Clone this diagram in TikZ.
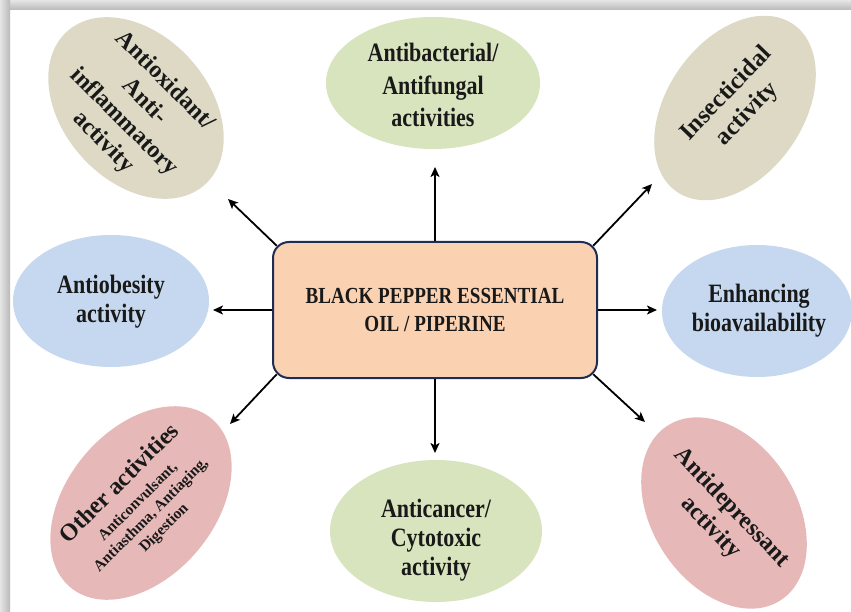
\documentclass[tikz,border=0pt]{standalone}
\usepackage{fontspec}
\setmainfont{Liberation Serif}[FakeStretch=0.83]
\newfontfamily\rotfont{Liberation Serif}
\usetikzlibrary{shapes.geometric,arrows.meta}
\definecolor{tanfill}{RGB}{221,217,196}
\definecolor{greenfill}{RGB}{215,228,189}
\definecolor{bluefill}{RGB}{198,216,239}
\definecolor{pinkfill}{RGB}{230,185,184}
\definecolor{peachfill}{RGB}{250,209,177}
\definecolor{boxline}{RGB}{31,45,85}
\definecolor{txt}{RGB}{25,25,25}
\begin{document}
\begin{tikzpicture}[x=1pt,y=-1pt,
  bubble/.style={ellipse, inner sep=0pt, draw=none},
  htext/.style={align=center, text=txt, font=\bfseries\fontsize{26.5}{32}\selectfont},
  rtext/.style={align=center, text=txt, font=\rotfont\bfseries\fontsize{24}{29}\selectfont},
  arr/.style={line width=1.8pt, draw=black, -{Stealth[length=10pt,width=9pt,inset=2.5pt]}}]
\useasboundingbox (0,0) rectangle (851,612);
\fill[white] (0,0) rectangle (851,612);
% frame shadow
\shade[top color=gray!20, bottom color=gray!55] (0,0) rectangle (851,10);
\shade[left color=gray!20, right color=gray!55] (0,0) rectangle (10,612);

% ellipses
\node[bubble, fill=tanfill, minimum width=206pt, minimum height=146pt, rotate=-48] (tl) at (136,108) {};
\node[rtext, rotate=-45] (tltext) at (134,112) {Antioxidant/\\Anti-\\inflammatory\\activity};

\node[bubble, fill=greenfill, minimum width=214pt, minimum height=132pt] (top) at (433,83) {};
\node[htext, font=\bfseries\fontsize{26.5}{32.5}\selectfont] (toptext) at (433,85) {Antibacterial/\\Antifungal\\activities};

\node[bubble, fill=tanfill, minimum width=204pt, minimum height=136pt, rotate=55] (tr) at (735,108) {};
\node[rtext, rotate=46, font=\rotfont\bfseries\fontsize{24.5}{29}\selectfont] (trtext) at (737,104) {Insecticidal\\activity};

\node[bubble, fill=bluefill, minimum width=196pt, minimum height=132pt] (left) at (111,301) {};
\node[htext, font=\bfseries\fontsize{26.5}{29}\selectfont] (lefttext) at (111,302) {Antiobesity\\activity};

\node[bubble, fill=bluefill, minimum width=190pt, minimum height=132pt] (right) at (757,311) {};
\node[htext, font=\bfseries\fontsize{26.5}{29}\selectfont] (righttext) at (759,311) {Enhancing\\bioavailability};

\node[bubble, fill=pinkfill, minimum width=220pt, minimum height=148pt, rotate=50] (bl) at (141,503) {};
\node[align=center, text=txt, font=\rotfont\bfseries\fontsize{15.5}{18.5}\selectfont, rotate=45] (bltext) at (141,505)
  {{\fontsize{24}{24}\selectfont Other activities}\\[5pt]Anticonvulsant,\\Antiasthma, Antiaging,\\Digestion};

\node[bubble, fill=greenfill, minimum width=212pt, minimum height=142pt] (bottom) at (436,531) {};
\node[htext, font=\bfseries\fontsize{26.5}{29}\selectfont] (bottomtext) at (436,540) {Anticancer/\\Cytotoxic\\activity};

\node[bubble, fill=pinkfill, minimum width=208pt, minimum height=144pt, rotate=-57] (br) at (724,513) {};
\node[rtext, rotate=-46] (brtext) at (721,518) {Antidepressant\\activity};

% arrow end points
\coordinate (tTL) at (228,199);
\coordinate (tTR) at (652,184);
\coordinate (tBL) at (230,424);
\coordinate (tBR) at (645,422);
\coordinate (tL) at (213,310);
\coordinate (tR) at (657,310);
\coordinate (tT) at (435,167);
\coordinate (tB) at (435,453);

% central box
\node[draw=boxline, line width=2pt, fill=peachfill, rounded corners=16pt,
      minimum width=324pt, minimum height=136pt, align=center, text=txt,
      font=\bfseries\fontsize{23}{28}\selectfont] (box) at (435,310)
      {BLACK PEPPER ESSENTIAL\\OIL / PIPERINE};

% arrows
\draw[arr] ([shift={(4.7,4.7)}]box.north west) -- (tTL);
\draw[arr] ([shift={(-4.7,4.7)}]box.north east) -- (tTR);
\draw[arr] ([shift={(4.7,-4.7)}]box.south west) -- (tBL);
\draw[arr] ([shift={(-4.7,-4.7)}]box.south east) -- (tBR);
\draw[arr] (box.west) -- (tL);
\draw[arr] (box.east) -- (tR);
\draw[arr] (box.north) -- (tT);
\draw[arr] (box.south) -- (tB);
\end{tikzpicture}
\end{document}
